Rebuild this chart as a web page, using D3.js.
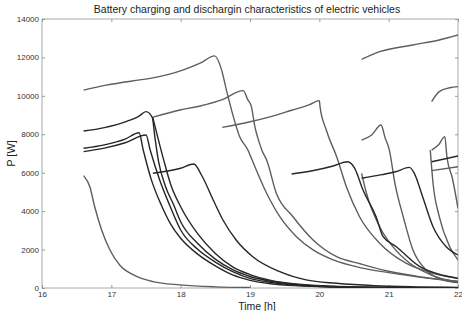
<!DOCTYPE html>
<html>
<head>
<meta charset="utf-8">
<script src="https://cdn.jsdelivr.net/npm/d3@7"></script>
<style>
  body { margin: 0; background: #fff; }
  svg { display: block; font-family: "Liberation Sans", Arial, sans-serif; }
</style>
</head>
<body>
<div id="chart"></div>
<script>
// values: [time (h), power (W)]
var xTicks = [16, 17, 18, 19, 20, 21, 22];
var yTicks = [0, 2000, 4000, 6000, 8000, 10000, 12000, 14000];

var ev01 = [[16.6, 10300], [16.93, 10560], [17.41, 10830], [17.56, 10910], [18.04, 11350], [18.28, 11700], [18.49, 12080],
    [18.59, 11350], [18.66, 10300], [18.76, 8920], [18.85, 7880], [18.97, 7180], [19.02, 6750], [19.24, 4930], [19.43, 3710],
    [19.67, 2670], [19.91, 1980], [20.2, 1460], [20.6, 1050], [21.0, 800], [21.5, 540], [22.0, 360]];
var ev02 = [[16.6, 8170], [16.9, 8350], [17.2, 8650], [17.4, 8950], [17.5, 9180], [17.59, 8880], [17.63, 7800], [17.68, 6600],
    [17.78, 5300], [17.9, 4320], [18.0, 3450], [18.25, 2300], [18.5, 1500], [18.75, 950], [19.0, 600], [19.3, 350],
    [19.7, 170], [20.2, 75], [21.0, 25], [22.0, 8]];
var ev03 = [[16.6, 7270], [16.9, 7450], [17.2, 7750], [17.4, 8080], [17.46, 7180], [17.58, 5600], [17.72, 4320], [17.86, 3300],
    [18.0, 2590], [18.25, 1750], [18.5, 1150], [18.75, 680], [19.0, 400], [19.3, 220], [19.7, 110], [20.2, 50],
    [21.0, 15], [22.0, 5]];
var ev04 = [[16.6, 7100], [16.9, 7280], [17.2, 7560], [17.5, 7960], [17.56, 7180], [17.7, 5600], [17.84, 4320], [18.0, 3020],
    [18.25, 2000], [18.5, 1350], [18.75, 850], [19.0, 500], [19.3, 290], [19.7, 140], [20.2, 60], [21.0, 20], [22.0, 6]];
var ev19 = [[17.6, 8850], [17.68, 7700], [17.76, 6600], [17.86, 5350], [18.0, 4230], [18.25, 2800], [18.5, 1800],
    [18.75, 1100], [19.0, 700], [19.3, 400], [19.7, 200], [20.2, 90], [21.0, 30], [22.0, 10]];
var ev05 = [[16.6, 5850], [16.69, 5270], [16.76, 4230], [16.86, 3020], [16.98, 1980], [17.12, 1200], [17.32, 680],
    [17.6, 330], [17.99, 160], [18.5, 60], [19.0, 25]];
var ev06 = [[17.6, 5970], [18.0, 6230], [18.19, 6450], [18.3, 5880], [18.47, 4580], [18.61, 3540], [18.8, 2500],
    [19.04, 1630], [19.43, 850], [19.81, 420], [20.25, 245], [20.8, 120], [21.4, 60], [22.0, 30]];
var ev07 = [[17.59, 8880], [17.99, 9265], [18.28, 9470], [18.6, 9800], [18.9, 10270], [18.97, 9790], [19.02, 9440],
    [19.07, 8400], [19.14, 7500], [19.17, 7180], [19.24, 6660], [19.38, 4930], [19.62, 3710], [19.91, 2500],
    [20.25, 1630], [20.6, 1250], [21.0, 870], [21.5, 560], [22.0, 330]];
var ev08 = [[18.6, 8360], [19.0, 8650], [19.3, 8920], [19.6, 9250], [19.85, 9530], [20.0, 9750], [20.01, 9440],
    [20.1, 8220], [20.25, 6830], [20.39, 5270], [20.58, 3710], [20.87, 2330], [21.25, 1290], [21.64, 770], [22.0, 500]];
var ev09 = [[19.6, 5930], [19.9, 6100], [20.2, 6350], [20.41, 6570], [20.51, 6230], [20.63, 5100], [20.82, 3700],
    [20.92, 2670], [21.11, 2150], [21.45, 1110], [21.8, 650], [22.0, 500]];
var ev10 = [[20.61, 5970], [20.68, 4930], [20.87, 3190], [21.06, 2150], [21.3, 1300], [21.6, 700], [22.0, 300]];
var ev11 = [[20.61, 5710], [20.9, 5900], [21.1, 6050], [21.3, 6280], [21.37, 5970], [21.49, 4750], [21.64, 3190],
    [21.83, 2150], [22.0, 1720]];
var ev12 = [[20.61, 7700], [20.75, 7950], [20.89, 8480], [20.95, 7800], [21.01, 7180], [21.09, 5450], [21.21, 3710],
    [21.35, 1980], [21.54, 940], [21.8, 400], [22.0, 280]];
var ev13 = [[20.61, 11900], [20.87, 12300], [21.35, 12650], [21.73, 12910], [22.0, 13170]];
var ev14 = [[21.62, 9700], [21.73, 10220], [21.88, 10420], [22.0, 10480]];
var ev15 = [[21.62, 7180], [21.72, 7450], [21.81, 7880], [21.84, 6830], [21.92, 5700], [22.0, 4150]];
var ev16 = [[21.6, 7180], [21.64, 5450], [21.73, 3710], [21.88, 2150], [22.0, 1460]];
var ev17 = [[21.62, 6570], [22.0, 6870]];
var ev18 = [[21.62, 6110], [22.0, 6310]];

var darkSeries = [ev02, ev03, ev04, ev19, ev06, ev09, ev11, ev17];
var graySeries = [ev01, ev05, ev07, ev08, ev10, ev12, ev13, ev14, ev15, ev16, ev18];

var W = 470, H = 311;
var margin = { top: 19, right: 12, bottom: 23, left: 42 },
    width = W - margin.left - margin.right,
    height = H - margin.top - margin.bottom;

var svg = d3.select("#chart").append("svg")
    .attr("width", 462)
    .attr("height", H);

svg.append("text")
    .attr("x", 247)
    .attr("y", 13)
    .attr("text-anchor", "middle")
    .attr("font-size", "10.5px")
    .attr("fill", "#222")
    .text("Battery charging and dischargin characteristics of electric vehicles");

var g = svg.append("g")
    .attr("transform", "translate(" + margin.left + "," + margin.top + ")");

var x = d3.scaleLinear().domain([16, 22]).range([0, width]);
var y = d3.scaleLinear().domain([0, 14000]).range([height, 0]);

g.append("clipPath").attr("id", "plot-clip")
    .append("rect").attr("width", width).attr("height", height);

// frame
g.append("rect")
    .attr("width", width)
    .attr("height", height)
    .attr("fill", "none")
    .attr("stroke", "#aaa")
    .attr("stroke-width", 1);

function styleAxis(sel, showLabels) {
    sel.select(".domain").remove();
    sel.selectAll(".tick line").attr("stroke", "#999");
    sel.selectAll(".tick text")
        .attr("fill", "#333")
        .attr("font-size", "8px")
        .style("display", showLabels ? null : "none");
}

g.append("g")
    .attr("transform", "translate(0," + height + ")")
    .call(d3.axisBottom(x).tickValues(xTicks).tickFormat(d3.format("d")).tickSize(-3).tickPadding(3))
    .call(styleAxis, true);
g.append("g")
    .call(d3.axisTop(x).tickValues(xTicks).tickSize(-3))
    .call(styleAxis, false);
g.append("g")
    .call(d3.axisLeft(y).tickValues(yTicks).tickFormat(d3.format("d")).tickSize(-3).tickPadding(3))
    .call(styleAxis, true);
g.append("g")
    .attr("transform", "translate(" + width + ",0)")
    .call(d3.axisRight(y).tickValues(yTicks).tickSize(-3))
    .call(styleAxis, false);

var line = d3.line()
    .x(function(d) { return x(d[0]); })
    .y(function(d) { return y(d[1]); })
    .curve(d3.curveMonotoneX);

var lines = g.append("g").attr("clip-path", "url(#plot-clip)");

lines.selectAll(".gray").data(graySeries).enter().append("path")
    .attr("class", "gray")
    .attr("d", line)
    .attr("fill", "none")
    .attr("stroke", "#5e5e5e")
    .attr("stroke-width", 1.4);

lines.selectAll(".dark").data(darkSeries).enter().append("path")
    .attr("class", "dark")
    .attr("d", line)
    .attr("fill", "none")
    .attr("stroke", "#262626")
    .attr("stroke-width", 1.4);

svg.append("text")
    .attr("transform", "translate(15," + (margin.top + height / 2) + ") rotate(-90)")
    .attr("text-anchor", "middle")
    .attr("font-size", "11px")
    .attr("fill", "#222")
    .text("P [W]");

svg.append("text")
    .attr("x", 257)
    .attr("y", 309.5)
    .attr("text-anchor", "middle")
    .attr("font-size", "10.5px")
    .attr("fill", "#222")
    .text("Time [h]");
</script>
</body>
</html>
